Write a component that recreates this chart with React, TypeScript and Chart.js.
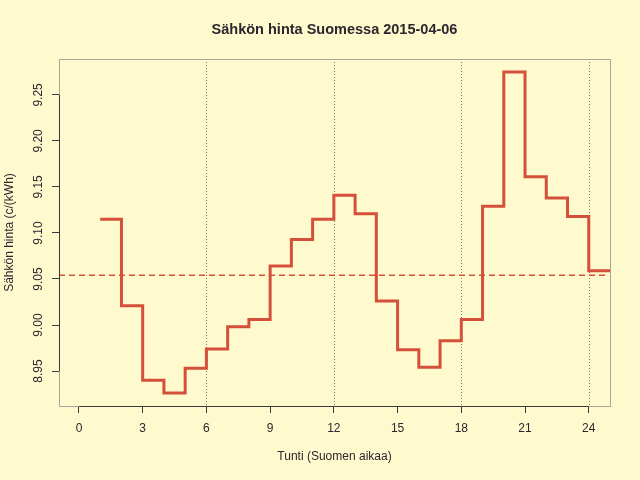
import { useEffect, useRef } from "react";
import { Chart, registerables } from "chart.js";

Chart.register(...registerables);

// Hourly spot price, c/kWh, hours 1..24
const hours = [1, 2, 3, 4, 5, 6, 7, 8, 9, 10, 11, 12, 13, 14, 15, 16, 17, 18, 19, 20, 21, 22, 23, 24];
const prices = [
  9.115, 9.021, 8.94, 8.926, 8.953, 8.974, 8.998, 9.006, 9.064, 9.093, 9.115, 9.141,
  9.121, 9.026, 8.973, 8.954, 8.983, 9.006, 9.129, 9.275, 9.161, 9.138, 9.118, 9.059,
];
const meanPrice = 9.054;
const xTicks = [0, 3, 6, 9, 12, 15, 18, 21, 24];
const yTicks = [8.95, 9.0, 9.05, 9.1, 9.15, 9.2, 9.25];
const markerHours = [6, 12, 18, 24];

const title = "Sähkön hinta Suomessa 2015-04-06";
const xTitle = "Tunti (Suomen aikaa)";
const yTitle = "Sähkön hinta (c/(kWh)";

const BG = "#fffacd";
const RED = "#d4503a";
const INK = "#2b2630";
const FONT = '"Liberation Sans", Arial, sans-serif';

const decorPlugin = {
  id: "decor",
  beforeDraw(chart: Chart) {
    const { ctx, width, height } = chart;
    ctx.save();
    ctx.fillStyle = BG;
    ctx.fillRect(0, 0, width, height);
    ctx.restore();
  },
  beforeDatasetsDraw(chart: Chart) {
    const { ctx, chartArea: a, scales } = chart;
    const xs = scales.x;
    const ys = scales.y;
    ctx.save();
    // dotted hour markers
    ctx.strokeStyle = "#7a7a7a";
    ctx.lineWidth = 1;
    ctx.setLineDash([1, 2]);
    markerHours.forEach((h) => {
      const px = Math.round(xs.getPixelForValue(h)) + 0.5;
      ctx.beginPath();
      ctx.moveTo(px, a.top);
      ctx.lineTo(px, a.bottom);
      ctx.stroke();
    });
    // mean price
    ctx.strokeStyle = RED;
    ctx.lineWidth = 1.5;
    ctx.setLineDash([6, 4]);
    const my = ys.getPixelForValue(meanPrice);
    ctx.beginPath();
    ctx.moveTo(a.left, my);
    ctx.lineTo(a.right - 3, my);
    ctx.stroke();
    ctx.restore();
  },
  afterDraw(chart: Chart) {
    const { ctx, chartArea: a, scales } = chart;
    const xs = scales.x;
    const ys = scales.y;
    ctx.save();
    // box
    ctx.strokeStyle = "#a8a69a";
    ctx.lineWidth = 1;
    ctx.strokeRect(a.left + 0.5, a.top + 0.5, a.right - a.left, a.bottom - a.top);
    // axis lines between first and last tick
    ctx.strokeStyle = "#3a3a3a";
    ctx.beginPath();
    ctx.moveTo(xs.getPixelForValue(xTicks[0]), a.bottom + 0.5);
    ctx.lineTo(xs.getPixelForValue(xTicks[xTicks.length - 1]), a.bottom + 0.5);
    ctx.moveTo(a.left + 0.5, ys.getPixelForValue(yTicks[0]));
    ctx.lineTo(a.left + 0.5, ys.getPixelForValue(yTicks[yTicks.length - 1]));
    ctx.stroke();

    ctx.fillStyle = INK;
    ctx.font = `12px ${FONT}`;
    ctx.textAlign = "center";
    ctx.textBaseline = "middle";
    xTicks.forEach((t) => {
      ctx.fillText(String(t), xs.getPixelForValue(t), a.bottom + 23);
    });
    yTicks.forEach((t) => {
      ctx.save();
      ctx.translate(39, ys.getPixelForValue(t));
      ctx.rotate(-Math.PI / 2);
      ctx.fillText(t.toFixed(2), 0, 0);
      ctx.restore();
    });
    ctx.fillText(xTitle, (a.left + a.right) / 2, 457);
    ctx.save();
    ctx.translate(10, (a.top + a.bottom) / 2);
    ctx.rotate(-Math.PI / 2);
    ctx.fillText(yTitle, 0, 0);
    ctx.restore();

    ctx.font = `bold 14.5px ${FONT}`;
    ctx.fillText(title, (a.left + a.right) / 2, 30);
    ctx.restore();
  },
};

const App = () => {
  const canvasRef = useRef<HTMLCanvasElement>(null);
  const chartRef = useRef<Chart | null>(null);

  useEffect(() => {
    if (!canvasRef.current) return;
    if (chartRef.current) chartRef.current.destroy();
    const ctx = canvasRef.current.getContext("2d");
    if (!ctx) return;

    // step line: append the closing hour so the last level is drawn to 25
    const points = hours.map((h, i) => ({ x: h, y: prices[i] }));
    points.push({ x: hours[hours.length - 1] + 1, y: prices[prices.length - 1] });

    chartRef.current = new Chart(ctx, {
      type: "line",
      data: {
        datasets: [
          {
            data: points,
            borderColor: RED,
            borderWidth: 3,
            pointRadius: 0,
            stepped: "before",
            fill: false,
            clip: 2,
          },
        ],
      },
      options: {
        responsive: false,
        animation: false,
        devicePixelRatio: 1,
        layout: { padding: { top: 59, right: 30, left: 0, bottom: 0 } },
        plugins: {
          legend: { display: false },
          tooltip: { enabled: false },
          title: { display: false },
        },
        scales: {
          x: {
            type: "linear",
            min: -0.94,
            max: 25,
            afterBuildTicks: (s: any) => {
              s.ticks = xTicks.map((v) => ({ value: v }));
            },
            afterFit: (s: any) => {
              s.height = 74;
            },
            ticks: { display: false },
            border: { display: false },
            grid: {
              drawOnChartArea: false,
              drawTicks: true,
              tickLength: 7,
              tickColor: "#3a3a3a",
              tickWidth: 1,
            },
          },
          y: {
            type: "linear",
            min: 8.912,
            max: 9.289,
            afterBuildTicks: (s: any) => {
              s.ticks = yTicks.map((v) => ({ value: v }));
            },
            afterFit: (s: any) => {
              s.width = 59;
            },
            ticks: { display: false },
            border: { display: false },
            grid: {
              drawOnChartArea: false,
              drawTicks: true,
              tickLength: 7,
              tickColor: "#3a3a3a",
              tickWidth: 1,
            },
          },
        },
      },
      plugins: [decorPlugin],
    });

    return () => {
      if (chartRef.current) {
        chartRef.current.destroy();
        chartRef.current = null;
      }
    };
  }, []);

  return (
    <div style={{ position: "absolute", left: 0, top: 0, width: 640, height: 480, background: BG }}>
      <canvas ref={canvasRef} width={640} height={480}></canvas>
    </div>
  );
};

export default App;
